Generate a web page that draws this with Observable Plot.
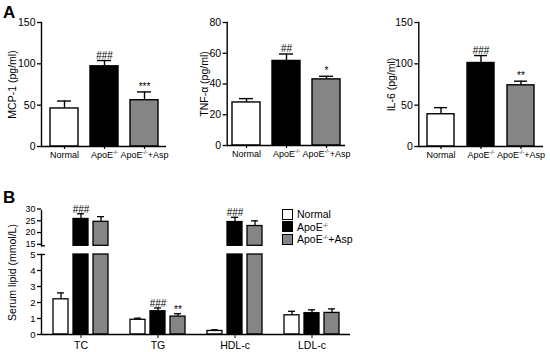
<!DOCTYPE html>
<html><head><meta charset="utf-8">
<script src="https://cdn.jsdelivr.net/npm/d3@7"></script>
<script src="https://cdn.jsdelivr.net/npm/@observablehq/plot@0.6"></script>
<style>
body{margin:0;background:#fff;font-family:"Liberation Sans",Arial,Helvetica,sans-serif;}
#fig{position:relative;width:550px;height:352px;overflow:hidden;background:#fff;}
.panel{position:absolute;}
.panel svg{display:block;max-width:none;}
.plab{position:absolute;font-weight:bold;font-size:17px;line-height:1;}
.legend{position:absolute;left:282px;top:208px;font-size:10.5px;}
.legend .row{display:flex;align-items:center;height:12.5px;white-space:nowrap;}
.legend .sw{display:inline-block;width:9px;height:9px;border:1px solid #000;margin-right:4px;}
.legend sup{font-size:6px;}
</style></head><body><div id="fig"></div>
<script>
// ---- data ----
const groups = ["Normal", "ApoE-/-", "ApoE-/-+Asp"];
const colors = ["#ffffff", "#000000", "#858585"];

const mcp1 = [46, 97, 56];
const mcp1Sem = [9, 7, 10];
const mcp1Sig = ["", "###", "***"];
const mcp1Ticks = [0, 50, 100, 150];

const tnfa = [28, 55, 43];
const tnfaSem = [2.5, 4.5, 2];
const tnfaSig = ["", "##", "*"];
const tnfaTicks = [0, 20, 40, 60, 80];

const il6 = [39, 101, 74];
const il6Sem = [8, 9, 5];
const il6Sig = ["", "###", "**"];
const il6Ticks = [0, 50, 100, 150];

const lipids = ["TC", "TG", "HDL-c", "LDL-c"];
const lipidNormal = [2.2, 0.92, 0.22, 1.2];
const lipidNormalSem = [0.4, 0.1, 0.07, 0.25];
const lipidApoE = [26.4, 1.45, 25.1, 1.33];
const lipidApoESem = [2.2, 0.21, 2.0, 0.21];
const lipidAsp = [25.2, 1.12, 23.4, 1.35];
const lipidAspSem = [2.2, 0.18, 2.2, 0.25];
const lipidSigApoE = ["###", "###", "###", ""];
const lipidSigAsp = ["", "**", "", ""];
const lipidTicksLow = [0, 1, 2, 3, 4, 5];
const lipidTicksHigh = [15, 20, 25, 30];

// ---- helpers ----
const font = '"Liberation Sans", Arial, Helvetica, sans-serif';
const fig = document.getElementById("fig");
const NS = "http://www.w3.org/2000/svg";
const baseStyle = {fontFamily: font, fontSize: "10px", background: "none", overflow: "visible"};
const intFmt = d3.format("d");

function supify(root) {
  root.querySelectorAll("text, tspan").forEach(el => {
    if (el.childNodes.length !== 1 || el.firstChild.nodeType !== 3) return;
    const s = el.textContent, k = s.indexOf("-/-");
    if (k < 0) return;
    el.textContent = "";
    const a = document.createElementNS(NS, "tspan"); a.textContent = s.slice(0, k);
    const b = document.createElementNS(NS, "tspan"); b.textContent = "-/-";
    b.setAttribute("font-size", "5.5"); b.setAttribute("dy", "-3.5");
    el.append(a, b);
    const rest = s.slice(k + 3);
    if (rest) {
      const c = document.createElementNS(NS, "tspan"); c.textContent = rest;
      c.setAttribute("dy", "3.5"); el.append(c);
    }
  });
  // drop empty texts (used only for tick marks without labels)
  root.querySelectorAll("text").forEach(el => { if (!el.textContent.trim()) el.remove(); });
}
function place(node, left, top) {
  const d = document.createElement("div");
  d.className = "panel"; d.style.left = left + "px"; d.style.top = top + "px";
  d.appendChild(node); fig.appendChild(d); supify(d);
}
function label(txt, left, top) {
  const d = document.createElement("div");
  d.className = "plab"; d.textContent = txt; d.style.left = left + "px"; d.style.top = top + "px";
  fig.appendChild(d);
}

function panelA(o) {
  const rows = groups.map((g, i) => ({group: g, value: o.values[i], top: o.values[i] + o.sem[i], sig: o.sig[i]}));
  return Plot.plot({
    width: o.width, height: 170, marginLeft: o.ml, marginRight: o.mr, marginTop: 22, marginBottom: o.mb,
    style: baseStyle,
    x: {domain: groups, paddingInner: o.pi, paddingOuter: o.po, axis: null},
    y: {domain: [o.ticks[0], o.ticks[o.ticks.length - 1]], axis: null},
    color: {domain: groups, range: colors},
    marks: [
      Plot.ruleX(rows, {x: "group", y1: "value", y2: "top", strokeWidth: 1.4}),
      Plot.tickY(rows, {x: "group", y: "top", strokeWidth: 1.4, insetLeft: 7, insetRight: 7}),
      Plot.barY(rows, {x: "group", y: "value", fill: "group", stroke: "#000", strokeWidth: 1.4}),
      Plot.text(rows.filter(d => d.sig), {x: "group", y: "top", text: "sig", lineAnchor: "bottom", dy: -2, fontSize: 10}),
      Plot.ruleY([0], {strokeWidth: 1.4}),
      Plot.frame({anchor: "left", strokeWidth: 1.4}),
      Plot.axisY({ticks: o.ticks, tickFormat: intFmt, tickSize: 4, tickPadding: 2, strokeWidth: 1.3, fontSize: 10.5,
        label: o.label, labelAnchor: "center", labelArrow: "none", labelOffset: o.lo}),
      Plot.axisX({tickSize: 3, tickPadding: 2, strokeWidth: 1.2, fontSize: 9, label: null})
    ]
  });
}

// ---- Panel A ----
label("A", 3, 4);
place(panelA({values: mcp1, sem: mcp1Sem, sig: mcp1Sig, ticks: mcp1Ticks, label: "MCP-1 (pg/ml)",
  width: 180, ml: 41, mr: 14, mb: 24, pi: 0.31, po: 0.2, lo: 33}), 0, 0);
place(panelA({values: tnfa, sem: tnfaSem, sig: tnfaSig, ticks: tnfaTicks, label: "TNF-α (pg/ml)",
  width: 180, ml: 46.7, mr: 15, mb: 25, pi: 0.3, po: 0.1, lo: 27}), 180, 0);
place(panelA({values: il6, sem: il6Sem, sig: il6Sig, ticks: il6Ticks, label: "IL-6 (pg/ml)",
  width: 185, ml: 53.3, mr: 7, mb: 24, pi: 0.32, po: 0.19, lo: 31}), 365, 0);

// ---- Panel B (broken y axis: two stacked segments) ----
label("B", 3, 189);
const series = [
  {name: groups[0], v: lipidNormal, s: lipidNormalSem, sig: lipids.map(() => "")},
  {name: groups[1], v: lipidApoE, s: lipidApoESem, sig: lipidSigApoE},
  {name: groups[2], v: lipidAsp, s: lipidAspSem, sig: lipidSigAsp}
];
const lipidRows = lipids.flatMap((l, i) => series.map(s => ({lipid: l, group: s.name, value: s.v[i], top: s.v[i] + s.s[i], sig: s.sig[i]})));
const lowMax = lipidTicksLow[lipidTicksLow.length - 1];
const highMin = lipidTicksHigh[0], highMax = lipidTicksHigh[lipidTicksHigh.length - 1];
const lowRows = lipidRows.filter(d => d.value <= lowMax);
const highRows = lipidRows.filter(d => d.value >= highMin);

const segHigh = {width: 360, height: 70, marginLeft: 41, marginRight: 8.3, marginTop: 30, marginBottom: 4.7};
const segLow = {width: 360, height: 102, marginLeft: 41, marginRight: 8.3, marginTop: 4, marginBottom: 18};
const xB = {domain: groups, paddingInner: 0.27, paddingOuter: 0.53, axis: null};
const colorB = {domain: groups, range: colors};

// upper segment bars
place(Plot.plot({
  ...segHigh, style: baseStyle,
  fx: {domain: lipids, padding: 0, axis: null},
  x: xB, y: {domain: [highMin, highMax], axis: null}, color: colorB,
  marks: [
    Plot.ruleX(highRows, {fx: "lipid", x: "group", y1: "value", y2: "top", strokeWidth: 1.3}),
    Plot.tickY(highRows, {fx: "lipid", x: "group", y: "top", strokeWidth: 1.3, insetLeft: 4, insetRight: 4}),
    Plot.barY(highRows, {fx: "lipid", x: "group", y1: highMin, y2: "value", fill: "group", stroke: "#000", strokeWidth: 1.3}),
    Plot.text(highRows.filter(d => d.sig), {fx: "lipid", x: "group", y: "top", text: "sig", lineAnchor: "bottom", dy: -1, fontSize: 10})
  ]
}), 0, 180);

// lower segment bars
place(Plot.plot({
  ...segLow, style: baseStyle,
  fx: {domain: lipids, padding: 0, label: null},
  x: xB, y: {domain: [0, lowMax], axis: null}, color: colorB,
  marks: [
    Plot.ruleX(lowRows, {fx: "lipid", x: "group", y1: "value", y2: "top", strokeWidth: 1.3}),
    Plot.tickY(lowRows, {fx: "lipid", x: "group", y: "top", strokeWidth: 1.3, insetLeft: 4, insetRight: 4}),
    Plot.barY(lipidRows, {fx: "lipid", x: "group", y1: 0, y2: d => Math.min(d.value, lowMax), fill: "group", stroke: "#000", strokeWidth: 1.3}),
    Plot.text(lowRows.filter(d => d.sig), {fx: "lipid", x: "group", y: "top", text: "sig", lineAnchor: "bottom", dy: -1, fontSize: 10}),
    Plot.ruleY([0], {strokeWidth: 1.4}),
    Plot.axisFx({anchor: "bottom", tickSize: 4, tickPadding: 3, fontSize: 10.5, label: null})
  ]
}), 0, 250);

// y axes of the two segments (with break ticks crossing the axis line)
place(Plot.plot({
  ...segHigh, style: baseStyle,
  x: {domain: [0, 1], axis: null}, y: {domain: [highMin, highMax], axis: null},
  marks: [
    Plot.frame({anchor: "left", strokeWidth: 1.4}),
    Plot.axisY({ticks: lipidTicksHigh, tickFormat: intFmt, tickSize: 4, tickPadding: 2, strokeWidth: 1.3, fontSize: 9, dy: -1.5, label: null}),
    Plot.axisY({ticks: [highMin], tickFormat: () => "", tickSize: -4, strokeWidth: 1.3, label: null})
  ]
}), 0, 180);
place(Plot.plot({
  ...segLow, style: baseStyle,
  x: {domain: [0, 1], axis: null}, y: {domain: [0, lowMax], axis: null},
  marks: [
    Plot.frame({anchor: "left", strokeWidth: 1.4}),
    Plot.axisY({ticks: lipidTicksLow, tickFormat: intFmt, tickSize: 4, tickPadding: 2, strokeWidth: 1.3, fontSize: 9.5, label: null}),
    Plot.axisY({ticks: [lowMax], tickFormat: () => "", tickSize: -4, strokeWidth: 1.3, label: null})
  ]
}), 0, 250);
// shared y label of panel B
place(Plot.plot({
  width: 360, height: 172, marginLeft: 41, marginRight: 8.3, marginTop: 30, marginBottom: 18, style: baseStyle,
  x: {domain: [0, 1], axis: null}, y: {domain: [0, highMax], axis: null},
  marks: [
    Plot.axisY({ticks: [], tickSize: 0, fontSize: 10.5, label: "Serum lipid (mmol/L)", labelAnchor: "center", labelArrow: "none", labelOffset: 33})
  ]
}), 0, 180);

// legend
const leg = document.createElement("div");
leg.className = "legend";
groups.forEach((g, i) => {
  const r = document.createElement("div"); r.className = "row";
  const sw = document.createElement("span"); sw.className = "sw"; sw.style.background = colors[i];
  r.appendChild(sw);
  const t = document.createElement("span");
  const k = g.indexOf("-/-");
  if (k >= 0) { t.append(g.slice(0, k)); const s = document.createElement("sup"); s.textContent = "-/-"; t.append(s, g.slice(k + 3)); }
  else t.textContent = g;
  r.appendChild(t); leg.appendChild(r);
});
fig.appendChild(leg);
</script></body></html>
